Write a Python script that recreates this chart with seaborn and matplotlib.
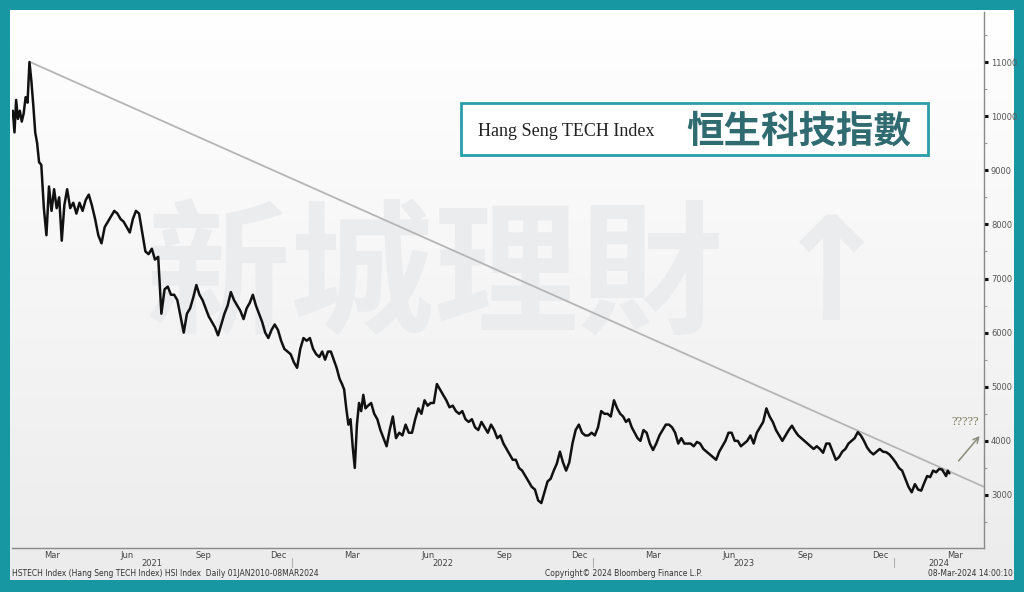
import numpy as np
import pandas as pd
import matplotlib
matplotlib.use("Agg")
import matplotlib.pyplot as plt
import matplotlib.dates as mdates
import matplotlib.transforms as mtransforms
from matplotlib.patches import Rectangle
from matplotlib.ticker import MultipleLocator
import seaborn as sns

# --- データ (チャートから読み取り) ---
FIRST_DAY = "2021-01-26"
LAST_DAY = "2024-03-08"

# 月ごとの終値 (各月内で等間隔に配置)
hstech_2021 = [
    [10100, 9700, 10300],
    [9950, 10100, 9900, 10050, 10350, 10250, 11000, 10650, 10200, 9700, 9500, 9150],
    [9100, 8300, 7800, 8700, 8250, 8650, 8300, 8500, 7700, 8350],
    [8650, 8300, 8400, 8200, 8400, 8250, 8450, 8550],
    [8350, 8100, 7800, 7650, 7950, 8050, 8150, 8250],
    [8200, 8100, 8050, 7950, 7850, 8100, 8250, 8200],
    [7850, 7500, 7450, 7550, 7350, 7400, 6350, 6800],
    [6850, 6700, 6700, 6600, 6300, 6000, 6350, 6450],
    [6650, 6880, 6700, 6600, 6450, 6300, 6200, 6100],
    [5950, 6150, 6350, 6500, 6750, 6600, 6500, 6400],
    [6250, 6450, 6550, 6700, 6500, 6350, 6200, 6000],
    [5900, 6050, 6150, 6050, 5850, 5700, 5650, 5600],
]
hstech_2022 = [
    [5450, 5350, 5700, 5900, 5850, 5900, 5700, 5600],
    [5550, 5650, 5500, 5650, 5650, 5500, 5350, 5150],
    [5050, 4950, 4600, 4300, 4400, 3900, 3500, 4300, 4700, 4550, 4850, 4600],
    [4650, 4700, 4500, 4400, 4200, 4050, 3900, 4200],
    [4450, 4050, 4150, 4100, 4300, 4150, 4150, 4400],
    [4600, 4500, 4750, 4650, 4700, 4700, 5050, 4950],
    [4850, 4750, 4620, 4650, 4550, 4500, 4550, 4400],
    [4350, 4400, 4250, 4200, 4350, 4250, 4150, 4300],
    [4200, 4050, 4100, 3950, 3850, 3750, 3650, 3650],
    [3500, 3450, 3350, 3250, 3150, 3100, 2900, 2850],
    [3050, 3250, 3300, 3450, 3580, 3800, 3600, 3450],
    [3600, 3950, 4200, 4300, 4150, 4100, 4100, 4150],
]
hstech_2023 = [
    [4100, 4250, 4550, 4500, 4500, 4450, 4750, 4600],
    [4500, 4450, 4350, 4400, 4250, 4150, 4050, 4000],
    [4200, 4150, 3950, 3830, 3950, 4100, 4200, 4300],
    [4300, 4250, 4150, 3950, 4050, 3950, 3950, 3950],
    [3900, 3980, 3950, 3850, 3800, 3750, 3700, 3650],
    [3800, 3900, 4000, 4150, 4150, 4000, 4000, 3900],
    [3950, 4000, 4100, 3950, 4150, 4250, 4350, 4600],
    [4450, 4350, 4200, 4100, 4000, 4100, 4200, 4280],
    [4180, 4100, 4050, 4000, 3950, 3900, 3850, 3900],
    [3850, 3780, 3950, 3950, 3800, 3650, 3700, 3800],
    [3850, 3950, 4000, 4050, 4160, 4100, 4000, 3880],
    [3800, 3750, 3800, 3850, 3800, 3790, 3750, 3680],
]
hstech_2024 = [
    [3600, 3500, 3450, 3300, 3150, 3050, 3200, 3100],
    [3080, 3220, 3350, 3330, 3450, 3420, 3480, 3470],
    [3400, 3350, 3450, 3400],
]

# トレンドライン / 矢印
trend_dates = ["2021-02-17", "2024-04-19"]
trend_values = [11000, 3150]
arrow_dates = ["2024-03-17", "2024-04-16"]
arrow_values = [3590, 4130]
question_date = "2024-03-27"
question_value = 4350

XLIM = ("2021-01-26", "2024-04-19")
YLIM = (2020, 11925)
TEAL = "#1797a2"


def month_series(year, months):
    rows = []
    first = pd.Timestamp(FIRST_DAY)
    last = pd.Timestamp(LAST_DAY) + pd.Timedelta(days=1)
    for m, vals in enumerate(months, start=1):
        mstart = pd.Timestamp(year, m, 1)
        start = max(mstart, first)
        end = min(mstart + pd.offsets.MonthBegin(1), last)
        step = (end - start) / len(vals)
        for k, v in enumerate(vals):
            rows.append((start + step * (k + 0.5), v))
    return rows


rows = []
for yr, data in [(2021, hstech_2021), (2022, hstech_2022), (2023, hstech_2023), (2024, hstech_2024)]:
    rows += month_series(yr, data)
df = pd.DataFrame(rows, columns=["date", "close"])

# --- プロット ---
sns.set_style("white")
plt.rcParams["font.family"] = ["DejaVu Sans"]

fig = plt.figure(figsize=(10.24, 5.92), dpi=100)
fig.patch.set_facecolor(TEAL)
W, H = 1024, 592


def fbox(x0, y0, x1, y1):
    return [x0 / W, 1 - y1 / H, (x1 - x0) / W, (y1 - y0) / H]


# パネル背景 (グラデーション)
bg = fig.add_axes(fbox(10, 10, 1014, 580))
grad = np.linspace(1.0, 0.925, 256).reshape(-1, 1)
bg.imshow(np.dstack([grad, grad, grad]), aspect="auto", extent=[0, 1, 0, 1])
bg.set_axis_off()

ax = fig.add_axes(fbox(12, 12, 984, 548))
ax.set_facecolor("none")

# 透かし
ax.text(0.137, 0.50, "新城理財", transform=ax.transAxes, fontsize=104,
        family=["Noto Sans CJK TC"], fontweight="bold", color="#eaecee",
        va="center", ha="left", zorder=1)
ax.text(0.78, 0.50, "↑", transform=ax.transAxes, fontsize=104,
        fontweight="bold", color="#eaecee", va="center", ha="left", zorder=1)

sns.lineplot(data=df, x="date", y="close", ax=ax, color="#111111",
             linewidth=1.8, zorder=3)

ax.plot(pd.to_datetime(trend_dates), trend_values, color="#b5b5b5", lw=1.3, zorder=2)
ax.annotate("", xy=(pd.Timestamp(arrow_dates[1]), arrow_values[1]),
            xytext=(pd.Timestamp(arrow_dates[0]), arrow_values[0]),
            arrowprops=dict(arrowstyle="->", color="#8c8c78", lw=1.1), zorder=4)
ax.text(pd.Timestamp(question_date), question_value, "?????", color="#77775a",
        fontsize=9, family=["Liberation Serif"], ha="center", va="center")

ax.set_xlim(pd.Timestamp(XLIM[0]), pd.Timestamp(XLIM[1]))
ax.set_ylim(*YLIM)
ax.set_xlabel("")
ax.set_ylabel("")

for s in ["left", "top"]:
    ax.spines[s].set_visible(False)
for s in ["right", "bottom"]:
    ax.spines[s].set_color("#8a8a8a")
    ax.spines[s].set_linewidth(1.0)

# y軸 (右側)
ax.yaxis.tick_right()
ax.yaxis.set_major_locator(MultipleLocator(1000))
ax.yaxis.set_minor_locator(MultipleLocator(500))
ax.tick_params(axis="y", which="major", length=3, width=2.2, color="#111111",
               labelsize=6, labelcolor="#555555", pad=2)
ax.tick_params(axis="y", which="minor", length=2, width=0.8, color="#999999")

# x軸 (月ラベルは月の中央)
label_months = pd.date_range("2021-03-01", "2024-03-01", freq="3MS") + pd.Timedelta(days=14)
ax.set_xticks(label_months)
ax.set_xticklabels([d.strftime("%b") for d in label_months])
ax.xaxis.set_minor_locator(mdates.MonthLocator())
ax.tick_params(axis="x", which="major", length=0, labelsize=6,
               labelcolor="#444444", pad=2)
ax.tick_params(axis="x", which="minor", length=4, width=0.8,
               color="#888888", direction="inout")

trans = mtransforms.blended_transform_factory(ax.transData, ax.transAxes)
x0, x1 = pd.Timestamp(XLIM[0]), pd.Timestamp(XLIM[1])
for yr in [2021, 2022, 2023, 2024]:
    a = max(pd.Timestamp(yr, 1, 1), x0)
    b = min(pd.Timestamp(yr + 1, 1, 1), x1)
    ax.text(a + (b - a) / 2, -0.029, str(yr), transform=trans, fontsize=6,
            color="#444444", ha="center", va="center")
    if yr > 2021:
        ax.plot([pd.Timestamp(yr, 1, 1)] * 2, [-0.018, -0.036], transform=trans,
                color="#b0b0b0", lw=0.8, clip_on=False)

# フッター
fig.text(12 / W, 1 - 574 / H, "HSTECH Index (Hang Seng TECH Index) HSI Index  Daily 01JAN2010-08MAR2024",
         fontsize=5.5, color="#333333", va="center", ha="left")
fig.text(545 / W, 1 - 574 / H, "Copyright© 2024 Bloomberg Finance L.P.",
         fontsize=5.5, color="#333333", va="center", ha="left")
fig.text(1013 / W, 1 - 574 / H, "08-Mar-2024 14:00:10",
         fontsize=5.5, color="#333333", va="center", ha="right")

# タイトルボックス
bx = fbox(461, 103, 928, 155)
fig.patches.append(Rectangle((bx[0], bx[1]), bx[2], bx[3], transform=fig.transFigure,
                             facecolor="white", edgecolor="#2a9ea8", lw=2, zorder=5))
fig.text(478 / W, 1 - 131 / H, "Hang Seng TECH Index", fontsize=13,
         family=["Liberation Serif"], color="#222222", va="center", ha="left", zorder=6)
fig.text(686 / W, 1 - 131 / H, "恒生科技指數", fontsize=27,
         family=["Noto Sans CJK TC"], fontweight="bold", color="#2f6b70",
         va="center", ha="left", zorder=6)

plt.savefig("out.png", dpi=100, facecolor=fig.get_facecolor())
plt.close()
